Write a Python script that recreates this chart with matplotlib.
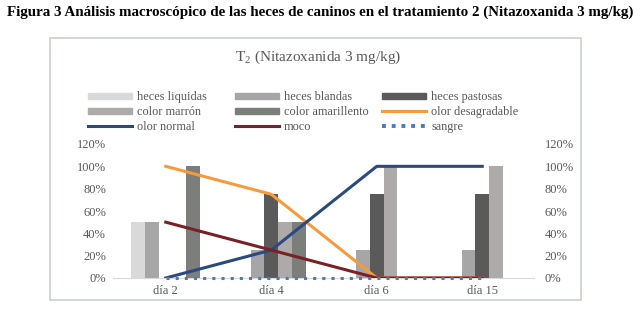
import matplotlib
matplotlib.use("Agg")
import matplotlib.pyplot as plt
from matplotlib.patches import Patch, Rectangle
import numpy as np

plt.rcParams['font.family'] = ['Liberation Serif', 'DejaVu Serif']
plt.rcParams['mathtext.fontset'] = 'custom'
plt.rcParams['mathtext.rm'] = 'Liberation Serif'

dias = ["día 2", "día 4", "día 6", "día 15"]

# barras (%)
heces_liquidas = [50, 0, 0, 0]
heces_blandas = [50, 25, 25, 25]
heces_pastosas = [0, 75, 75, 75]
color_marron = [0, 50, 100, 100]
color_amarillento = [100, 50, 0, 0]

# lineas (%)
olor_desagradable = [100, 75, 0, 0]
olor_normal = [0, 25, 100, 100]
moco = [50, 25, 0, 0]
sangre = [0, 0, 0, 0]

gris_txt = "#595959"

fig = plt.figure(figsize=(6.41, 3.10), dpi=100)
fig.text(0.5, 0.962, "Figura 3 Análisis macroscópico de las heces de caninos en el tratamiento 2 (Nitazoxanida 3 mg/kg)",
         ha="center", va="center", fontsize=10.8, fontweight="bold", color="black")

# marco del grafico
fig.patches.append(Rectangle((50/641, 1-300/310), (581-50)/641, (300-38)/310,
                             transform=fig.transFigure, fill=False, edgecolor="#c9d1c9", lw=1.2))

ax = fig.add_axes([113/641, 1-278/310, (535-113)/641, (278-144)/310])
x = np.arange(len(dias))
w = 0.13
series = [
    (heces_liquidas, "heces liquidas", "#d9d9d9"),
    (heces_blandas, "heces blandas", "#a6a6a6"),
    (heces_pastosas, "heces pastosas", "#5a5a5a"),
    (color_marron, "color marrón", "#aeaaaa"),
    (color_amarillento, "color amarillento", "#7b7e7b"),
]
h = {}
for i, (vals, lab, col) in enumerate(series):
    ax.bar(x + (i - 2) * w, np.array(vals) / 100, width=w, color=col, label=lab)
    h[lab] = Patch(color=col)

h["olor desagradable"], = ax.plot(x, np.array(olor_desagradable) / 100, color="#f79a3c", lw=2.2, zorder=3)
h["olor normal"], = ax.plot(x, np.array(olor_normal) / 100, color="#2b4a80", lw=2.2, zorder=3)
h["moco"], = ax.plot(x, np.array(moco) / 100, color="#7a2126", lw=2.2, zorder=3)
ax.plot(x, np.array(sangre) / 100, color="#4a78c2", lw=2.2, ls=(0, (1, 2)), zorder=3, clip_on=False)
h["sangre"], = ax.plot([], [], color="#4a78c2", lw=2.8, ls=(0, (1, 1.5)))

ax.set_xlim(-0.5, 3.5)
ax.set_ylim(0, 1.2)
ticks = np.arange(0, 1.21, 0.2)
ax.set_yticks(ticks)
ax.set_yticklabels([f"{int(round(t*100))}%" for t in ticks], color=gris_txt, fontsize=9)
ax.set_xticks(x)
ax.set_xticklabels(dias, color=gris_txt, fontsize=9)
ax.tick_params(length=0, pad=5)
for s in ["top", "left", "right"]:
    ax.spines[s].set_visible(False)
ax.spines["bottom"].set_color("#d9d9d9")
ax.spines["bottom"].set_linestyle((0, (1, 1)))

ax2 = ax.twinx()
ax2.set_ylim(0, 1.2)
ax2.set_yticks(ticks)
ax2.set_yticklabels([f"{int(round(t*100))}%" for t in ticks], color=gris_txt, fontsize=9)
ax2.tick_params(length=0, pad=7)
for s in ax2.spines.values():
    s.set_visible(False)

fig.text(318/641, 1-57/310, "T$_\\mathrm{2}$ (Nitazoxanida 3 mg/kg)", ha="center", va="center",
         fontsize=11, color=gris_txt)

columnas = [["heces liquidas", "color marrón", "olor normal"],
            ["heces blandas", "color amarillento", "moco"],
            ["heces pastosas", "olor desagradable", "sangre"]]
xs = [82, 229, 376]
for col, xp in zip(columnas, xs):
    fig.legend(handles=[h[c] for c in col], labels=col, ncol=1, loc="center left",
               bbox_to_anchor=(xp/641, 1-112/310), frameon=False, fontsize=8.8,
               labelcolor=gris_txt, handlelength=3.6, handleheight=0.4,
               labelspacing=0.22, handletextpad=0.4, borderpad=0)

fig.savefig("out.png", dpi=100)
